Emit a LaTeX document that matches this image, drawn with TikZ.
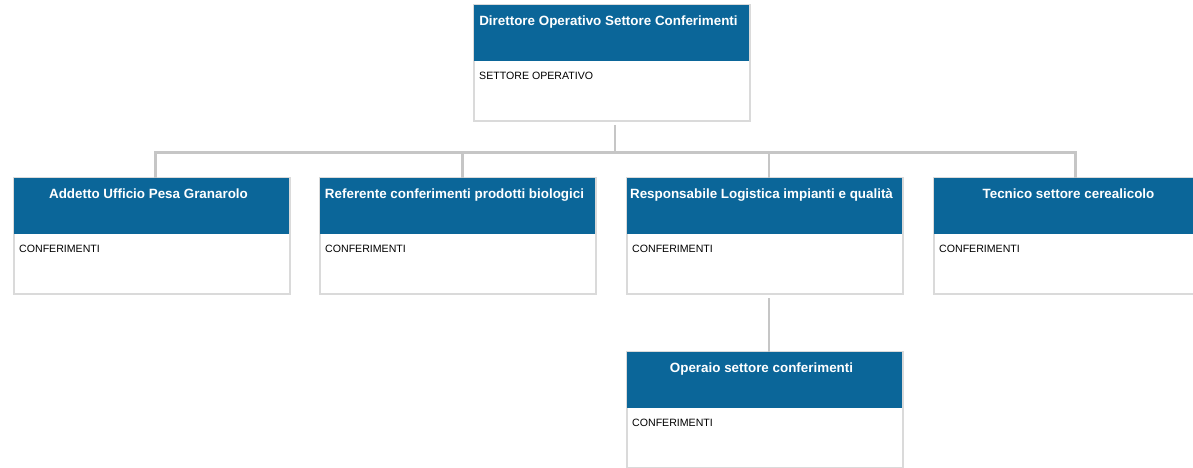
\documentclass[tikz,border=0pt]{standalone}
\usepackage{fontspec}
\setmainfont{Liberation Sans}
\definecolor{hdrblue}{RGB}{11,102,153}
\definecolor{cardgray}{RGB}{218,218,218}
\definecolor{linkgray}{RGB}{198,198,198}
\newcommand\orgcard[5]{%
  \node[card] (#1) at (#2,#3) {};
  \node[hdr] (#1h) at (#2,#3) {};
  \node[ttl] (#1t) at (#2+134.5,#3+20.5) {#4};
  \node[bdy] (#1b) at (#2+5,#3+74.5) {#5};
}
\begin{document}
\begin{tikzpicture}[x=1pt,y=-1pt,
  card/.style={draw=cardgray, line width=2pt, fill=white, minimum width=276pt,
    minimum height=116pt, inner sep=0pt, outer sep=0pt, anchor=north west},
  hdr/.style={fill=hdrblue, minimum width=275pt, minimum height=56pt,
    inner sep=0pt, outer sep=0pt, anchor=north west},
  ttl/.style={text=white, font=\fontsize{13.4}{15}\selectfont\bfseries,
    anchor=base, inner sep=0pt},
  bdy/.style={font=\fontsize{10.6}{12}\selectfont, anchor=base west, inner sep=0pt},
  link/.style={draw=linkgray, line width=2.5pt}]
\useasboundingbox (0,0) rectangle (1193,468);
\clip (0,0) rectangle (1193,468);
\fill[white] (0,0) rectangle (1193,468);

\orgcard{top}{474}{5}{Direttore Operativo Settore Conferimenti}{SETTORE OPERATIVO}
\orgcard{ba}{14}{178}{Addetto Ufficio Pesa Granarolo}{CONFERIMENTI}
\orgcard{bb}{320}{178}{Referente conferimenti prodotti biologici}{CONFERIMENTI}
\orgcard{bc}{627}{178}{Responsabile Logistica impianti e qualità}{CONFERIMENTI}
\orgcard{bd}{934}{178}{Tecnico settore cerealicolo}{CONFERIMENTI}
\orgcard{be}{627}{352}{Operaio settore conferimenti}{CONFERIMENTI}

\coordinate (j) at ([shift={(3,31.5)}]top.south);
\draw[link] ([shift={(3,4)}]top.south) -- (j);
\draw[link] ([xshift=3.5pt]ba.north) |- (j) -| ([xshift=3.5pt]bd.north);
\draw[link] ([xshift=4.5pt]bb.north) -- ([xshift=4.5pt]bb.north |- j);
\draw[link] ([xshift=4pt]bc.north) -- ([xshift=4pt]bc.north |- j);
\draw[link] ([shift={(4,4)}]bc.south) -- ([xshift=4pt]be.north);
\end{tikzpicture}
\end{document}
